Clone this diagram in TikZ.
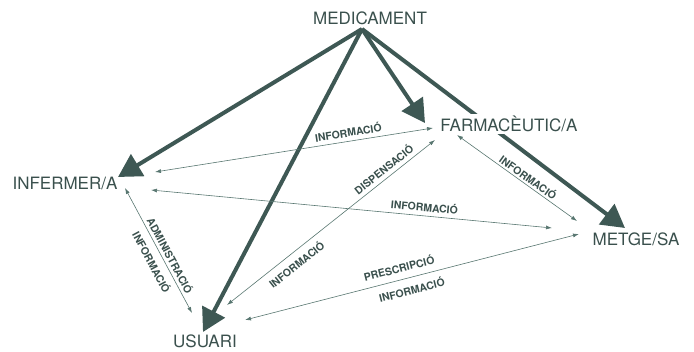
\documentclass[tikz,border=0pt]{standalone}
\usepackage{fontspec}
\setmainfont{TeX Gyre Heros}
\usetikzlibrary{arrows.meta,calc,backgrounds}
\definecolor{ardoise}{RGB}{58,80,77}
\definecolor{fletxa}{RGB}{62,88,84}
\definecolor{fil}{RGB}{88,118,112}

\begin{document}
\begin{tikzpicture}[x=1pt,y=-1pt,
  agent/.style={anchor=base,font=\fontsize{17}{20}\selectfont,text=ardoise,inner sep=2pt},
  gros/.style={draw=fletxa,line width=4pt,-{Triangle[length=23pt,width=25pt]}},
  prim/.style={draw=fil,line width=0.6pt,{Latex[length=6pt,width=4pt]}-{Latex[length=6pt,width=4pt]}},
  etiq/.style={font=\fontsize{10.5}{12}\selectfont\bfseries,text=ardoise,sloped,inner sep=1pt}]
\useasboundingbox (0,0) rectangle (694,352);
\node[agent] (med) at (370,25) {MEDICAMENT};
\node[agent,fill=white] (farm) at (509,132) {FARMACÈUTIC/A};
\node[agent] (inf) at (65,190) {INFERMER/A};
\node[agent] (met) at (636,246) {METGE/SA};
\node[agent] (usu) at (205,348) {USUARI};
\coordinate (apex) at ($(med.base)+(-8,4)$);
\begin{scope}[on background layer]
\draw[gros] (apex) -- ($(inf.base)+(53,-13)$);
\draw[gros] (apex) -- ($(usu.base)+(-2,-16)$);
\draw[gros] (apex) -- ($(farm.base)+(-84,-9)$);
\draw[gros] (apex) -- ($(met.base)+(-11,-18)$);
\end{scope}
\draw[prim] ($(inf.base)+(90,-18)$) -- node[etiq,pos=0.7,above=3pt] {INFORMACIÓ} ($(farm.base)+(-76,-4)$);
\draw[prim] ($(inf.base)+(86,0)$) -- node[etiq,pos=0.68,above=3pt] {INFORMACIÓ} ($(met.base)+(-84,-18)$);
\draw[prim] ($(inf.base)+(60,-2)$) -- node[etiq,pos=0.57,above=2pt] {ADMINISTRACIÓ}
  node[etiq,pos=0.55,below=5pt] {INFORMACIÓ} ($(usu.base)+(-13,-35)$);
\draw[prim] ($(usu.base)+(22,-43)$) -- node[etiq,pos=0.78,above=3pt] {DISPENSACIÓ}
  node[etiq,pos=0.3,below=5pt] {INFORMACIÓ} ($(farm.base)+(-74,8)$);
\draw[prim] ($(usu.base)+(40,-28)$) -- node[etiq,pos=0.47,above=6pt] {PRESCRIPCIÓ}
  node[etiq,pos=0.49,below=6pt] {INFORMACIÓ} ($(met.base)+(-57,-12)$);
\draw[prim] ($(farm.base)+(-52,3)$) -- node[etiq,pos=0.56,above=1pt] {INFORMACIÓ} ($(met.base)+(-59,-25)$);
\end{tikzpicture}
\end{document}
